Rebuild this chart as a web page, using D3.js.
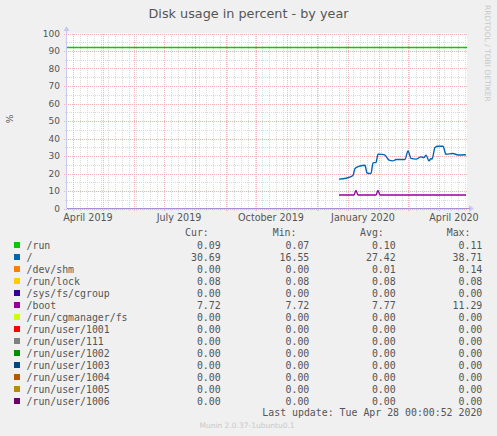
<!DOCTYPE html>
<html>
<head>
<meta charset="UTF-8">
<title>Disk usage in percent - by year</title>
<script src="https://cdn.jsdelivr.net/npm/d3@7"></script>
<style>
	body { margin: 0; background: #f0f0f0; }
	svg { display: block; }
	.grid-minor { stroke: #dadada; stroke-width: 1; stroke-dasharray: 1,1; shape-rendering: crispEdges; }
	.grid-major { stroke: #f2b4b4; stroke-width: 1; stroke-dasharray: 1,1; shape-rendering: crispEdges; }
	.tick-label { font-family: "DejaVu Sans", sans-serif; font-size: 9px; fill: #555; }
	.legend text { font-family: "DejaVu Sans Mono", monospace; font-size: 9.9px; fill: #555; white-space: pre; }
</style>
</head>
<body>
<svg id="chart" width="497" height="436"></svg>
<script>
	// time range of the yearly graph (400 days)
	const rangeStart = '2019-03-26';
	const rangeEnd = '2020-04-29';

	// "/" series
	const rootDates = ['2019-12-23', '2019-12-30', '2020-01-06', '2020-01-08', '2020-01-13', '2020-01-18',
		'2020-01-20', '2020-01-24', '2020-01-26', '2020-01-29', '2020-01-31', '2020-02-04', '2020-02-07',
		'2020-02-11', '2020-02-15', '2020-02-18', '2020-02-27', '2020-03-01', '2020-03-04', '2020-03-09',
		'2020-03-14', '2020-03-17', '2020-03-19', '2020-03-22', '2020-03-24', '2020-03-25', '2020-03-28',
		'2020-03-31', '2020-04-05', '2020-04-08', '2020-04-15', '2020-04-20', '2020-04-28'];
	const rootValues = [16.8, 17.3, 18.9, 22.9, 24.3, 24.7,
		20.3, 20.0, 26.1, 26.3, 31.0, 30.9, 30.5,
		27.6, 27.2, 28.0, 28.0, 32.9, 28.6, 28.2,
		29.5, 29.1, 30.5, 27.2, 28.6, 28.2, 34.9,
		35.6, 35.6, 31.0, 31.4, 30.6, 30.7];

	// "/boot" series
	const bootDates = ['2019-12-23', '2020-01-07', '2020-01-09', '2020-01-11', '2020-01-29', '2020-01-31',
		'2020-02-02', '2020-04-28'];
	const bootValues = [7.72, 7.72, 10.3, 7.72, 7.72, 10.3, 7.72, 7.72];

	// level of the green rule across the graph
	const ruleValue = 92;

	const yTicks = [0, 10, 20, 30, 40, 50, 60, 70, 80, 90, 100];

	const legendNames = ['/run', '/', '/dev/shm', '/run/lock', '/sys/fs/cgroup', '/boot', '/run/cgmanager/fs',
		'/run/user/1001', '/run/user/111', '/run/user/1002', '/run/user/1003', '/run/user/1004',
		'/run/user/1005', '/run/user/1006'];
	const legendColors = ['#00cc00', '#0066b3', '#ff8000', '#ffcc00', '#330099', '#990099', '#ccff00',
		'#ff0000', '#808080', '#008f00', '#00487d', '#b35a00', '#b38f00', '#6b006b'];
	const curValues = ['0.09', '30.69', '0.00', '0.08', '0.00', '7.72', '0.00', '0.00', '0.00', '0.00', '0.00', '0.00', '0.00', '0.00'];
	const minValues = ['0.07', '16.55', '0.00', '0.08', '0.00', '7.72', '0.00', '0.00', '0.00', '0.00', '0.00', '0.00', '0.00', '0.00'];
	const avgValues = ['0.10', '27.42', '0.01', '0.08', '0.00', '7.77', '0.00', '0.00', '0.00', '0.00', '0.00', '0.00', '0.00', '0.00'];
	const maxValues = ['0.11', '38.71', '0.14', '0.08', '0.00', '11.29', '0.00', '0.00', '0.00', '0.00', '0.00', '0.00', '0.00', '0.00'];

	const parse = d3.timeParse('%Y-%m-%d');
	const svg = d3.select('#chart');

	const plotLeft = 67, plotRight = 467, plotTop = 33.5, plotBottom = 208.5;
	const x = d3.scaleTime().domain([parse(rangeStart), parse(rangeEnd)]).range([plotLeft, plotRight]);
	const y = d3.scaleLinear().domain([0, 100]).range([plotBottom, plotTop]);

	// plot background
	svg.append('rect').attr('x', plotLeft).attr('y', plotTop).attr('width', plotRight - plotLeft).attr('height', plotBottom - plotTop)
		.attr('fill', '#fff');

	const grid = svg.append('g');
	// minor horizontal
	d3.range(5, 100, 10).forEach(v => {
		grid.append('line').attr('class', 'grid-minor')
			.attr('x1', plotLeft - 2).attr('x2', plotRight).attr('y1', Math.round(y(v)) + 0.5).attr('y2', Math.round(y(v)) + 0.5);
	});
	// minor vertical (weeks)
	d3.timeMonday.range(x.domain()[0], x.domain()[1]).forEach(d => {
		const px = Math.round(x(d)) + 0.5;
		grid.append('line').attr('class', 'grid-minor')
			.attr('x1', px).attr('x2', px).attr('y1', plotTop).attr('y2', plotBottom + 2);
	});
	// major vertical (months)
	d3.timeMonth.range(x.domain()[0], x.domain()[1]).forEach(d => {
		const px = Math.round(x(d)) + 0.5;
		grid.append('line').attr('class', 'grid-major')
			.attr('x1', px).attr('x2', px).attr('y1', plotTop).attr('y2', plotBottom + 3);
	});
	// major horizontal
	yTicks.forEach(v => {
		grid.append('line').attr('class', 'grid-major')
			.attr('x1', plotLeft - 3).attr('x2', plotRight).attr('y1', Math.round(y(v)) + 0.5).attr('y2', Math.round(y(v)) + 0.5);
	});

	// y tick labels
	svg.append('g').selectAll('text').data(yTicks).join('text')
		.attr('class', 'tick-label')
		.attr('x', 60).attr('y', d => y(d) + 3.3)
		.attr('text-anchor', 'end')
		.text(d => d);

	// x tick labels, placed at mid-month
	const labelMonths = d3.timeMonth.every(3).range(parse('2019-04-01'), x.domain()[1]);
	svg.append('g').selectAll('text').data(labelMonths).join('text')
		.attr('class', 'tick-label')
		.style('font-size', '9.6px')
		.attr('x', d => x(d3.timeDay.offset(d, 15)))
		.attr('y', 221)
		.attr('text-anchor', 'middle')
		.text(d => d3.timeFormat('%B %Y')(d));

	// axes
	svg.append('line').attr('x1', plotLeft - 0.5).attr('x2', plotLeft - 0.5).attr('y1', 29).attr('y2', plotBottom)
		.attr('stroke', '#c8c8f0');
	svg.append('path').attr('d', `M${plotLeft - 3.5},31 L${plotLeft - 0.5},26 L${plotLeft + 2.5},31 Z`).attr('fill', '#c8c8f0');
	svg.append('path').attr('d', `M${plotRight + 2},${plotBottom - 3.5} L${plotRight + 7},${plotBottom} L${plotRight + 2},${plotBottom + 3.5} Z`).attr('fill', '#c8c8f0');
	svg.append('line').attr('x1', plotLeft).attr('x2', plotRight + 3).attr('y1', plotBottom).attr('y2', plotBottom)
		.attr('stroke', '#a98bd6').attr('stroke-width', 1.2);

	// green rule
	svg.append('line').attr('x1', plotLeft).attr('x2', plotRight).attr('y1', y(ruleValue)).attr('y2', y(ruleValue))
		.attr('stroke', '#00cc00').attr('stroke-width', 1.6);

	const line = d3.line().x(d => x(d[0])).y(d => y(d[1])).curve(d3.curveMonotoneX);
	svg.append('path').datum(bootDates.map((d, i) => [parse(d), bootValues[i]]))
		.attr('d', line).attr('fill', 'none').attr('stroke', '#990099').attr('stroke-width', 1.3);
	svg.append('path').datum(rootDates.map((d, i) => [parse(d), rootValues[i]]))
		.attr('d', line).attr('fill', 'none').attr('stroke', '#0066b3').attr('stroke-width', 1.4);

	// title and labels
	svg.append('text').attr('x', 248.5).attr('y', 18).attr('text-anchor', 'middle')
		.style('font-family', '"DejaVu Sans", sans-serif').style('font-size', '12.8px').style('fill', '#555')
		.text('Disk usage in percent - by year');
	svg.append('text').attr('transform', 'translate(13,119) rotate(-90)').attr('text-anchor', 'middle')
		.style('font-family', '"DejaVu Sans", sans-serif').style('font-size', '9px').style('fill', '#555')
		.text('%');
	svg.append('text').attr('transform', 'translate(485,5) rotate(90)')
		.style('font-family', '"DejaVu Sans", sans-serif').style('font-size', '7.5px').style('fill', '#c8c8c8')
		.text('RRDTOOL / TOBI OETIKER');

	// legend
	const lg = svg.append('g').attr('class', 'legend');
	const headerY = 235.5;
	[['Cur:', 185], ['Min:', 272.7], ['Avg:', 360], ['Max:', 446.7]].forEach(h => {
		lg.append('text').attr('x', h[1]).attr('y', headerY).text(h[0]);
	});
	const rows = lg.selectAll('g.row').data(legendNames).join('g').attr('class', 'row')
		.attr('transform', (d, i) => `translate(0,${245 + i * 12})`);
	rows.append('rect').attr('x', 14).attr('y', -3).attr('width', 6).attr('height', 6)
		.attr('fill', (d, i) => legendColors[i]);
	rows.append('text').attr('x', 26.5).attr('y', 3.5).text(d => d);
	[[curValues, 220.7], [minValues, 309.3], [avgValues, 395.7], [maxValues, 482.3]].forEach(c => {
		rows.append('text').attr('x', c[1]).attr('y', 3.5).attr('text-anchor', 'end')
			.text((d, i) => c[0][i]);
	});
	lg.append('text').attr('x', 482.3).attr('y', 415.5).attr('text-anchor', 'end')
		.text('Last update: Tue Apr 28 00:00:52 2020');

	svg.append('text').attr('x', 247).attr('y', 428).attr('text-anchor', 'middle')
		.style('font-family', '"DejaVu Sans", sans-serif').style('font-size', '7.5px').style('fill', '#c8c8c8')
		.text('Munin 2.0.37-1ubuntu0.1');
</script>
</body>
</html>
